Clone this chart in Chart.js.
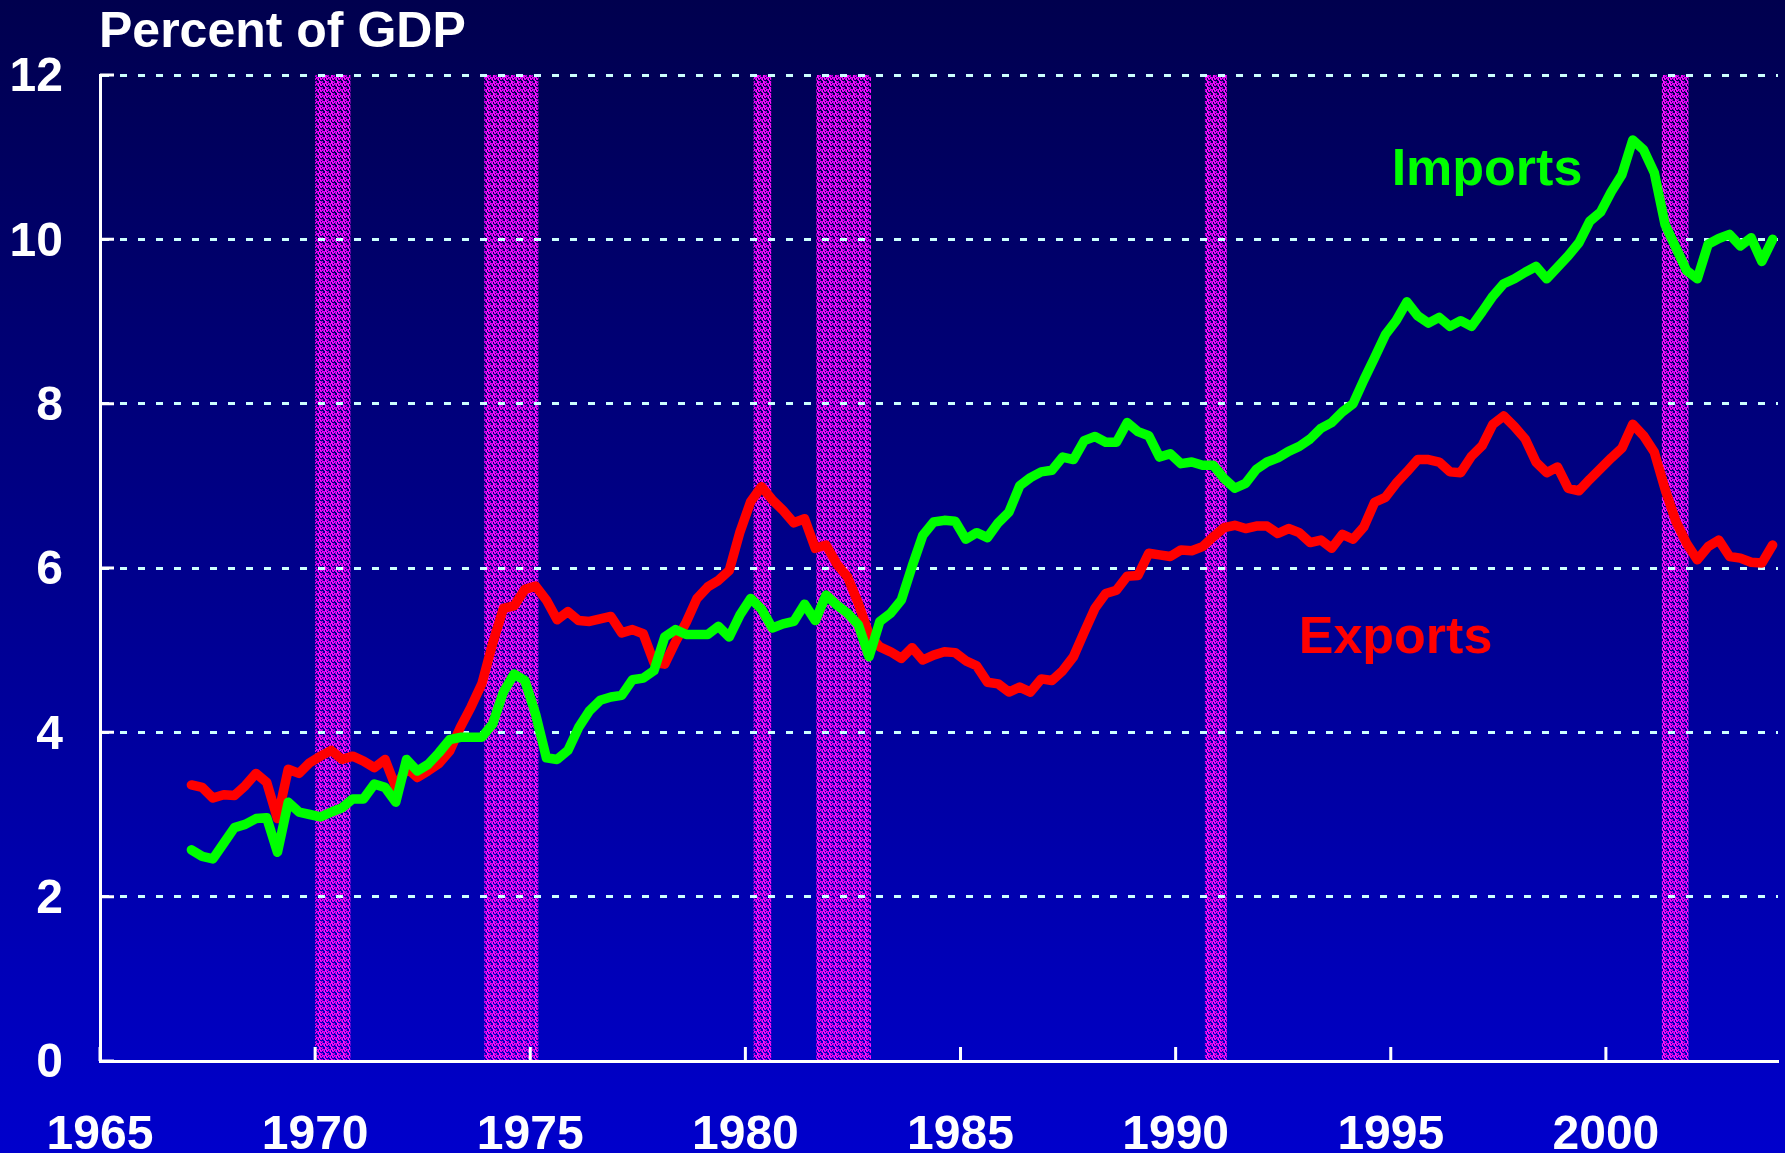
<!DOCTYPE html>
<html>
<head>
<meta charset="utf-8">
<title>Exports and Imports - Percent of GDP</title>
<script src="https://cdn.jsdelivr.net/npm/chart.js@4.4.0/dist/chart.umd.min.js"></script>
<style>
  html, body { margin: 0; padding: 0; }
  body {
    width: 1785px; height: 1153px; overflow: hidden;
    background: linear-gradient(to bottom, #00004e 0%, #0000cc 100%);
  }
</style>
</head>
<body>
<canvas id="chartComercio" width="1785" height="1153"></canvas>
<script>
// ----------------------------------------------------------
// DATOS (trimestrales, 1967T1 - 2003T4, % del PIB)
// ----------------------------------------------------------
const anioInicio = 1967;
const anioFin    = 2003;

const exportaciones = [
  3.36, 3.33, 3.20, 3.24, 3.23, 3.35, 3.50, 3.39, 2.95, 3.55, 3.50, 3.63,
  3.71, 3.78, 3.67, 3.71, 3.65, 3.57, 3.67, 3.33, 3.57, 3.45, 3.53, 3.62,
  3.77, 4.06, 4.31, 4.59, 5.08, 5.51, 5.54, 5.74, 5.78, 5.61, 5.37, 5.47,
  5.36, 5.35, 5.38, 5.41, 5.21, 5.25, 5.20, 4.85, 4.83, 5.10, 5.34, 5.63,
  5.77, 5.85, 5.97, 6.44, 6.81, 6.99, 6.83, 6.70, 6.55, 6.60, 6.24, 6.28,
  6.05, 5.89, 5.57, 5.19, 5.04, 4.98, 4.90, 5.03, 4.88, 4.94, 4.98, 4.97,
  4.87, 4.81, 4.61, 4.59, 4.49, 4.55, 4.49, 4.65, 4.63, 4.75, 4.92, 5.22,
  5.51, 5.69, 5.73, 5.90, 5.91, 6.18, 6.16, 6.14, 6.22, 6.21, 6.26, 6.38,
  6.49, 6.52, 6.48, 6.51, 6.51, 6.42, 6.48, 6.43, 6.31, 6.34, 6.24, 6.41,
  6.35, 6.50, 6.80, 6.86, 7.03, 7.17, 7.32, 7.32, 7.29, 7.17, 7.16, 7.36,
  7.49, 7.75, 7.85, 7.72, 7.57, 7.29, 7.16, 7.23, 6.97, 6.94, 7.08, 7.21,
  7.34, 7.46, 7.75, 7.61, 7.41, 6.96, 6.57, 6.30, 6.10, 6.26, 6.34, 6.14,
  6.12, 6.07, 6.06, 6.28
];

const importaciones = [
  2.57, 2.49, 2.46, 2.65, 2.84, 2.88, 2.95, 2.96, 2.54, 3.15, 3.03, 3.00,
  2.97, 3.03, 3.08, 3.19, 3.19, 3.37, 3.33, 3.15, 3.67, 3.53, 3.61, 3.75,
  3.91, 3.94, 3.94, 3.94, 4.10, 4.49, 4.71, 4.63, 4.22, 3.69, 3.67, 3.78,
  4.06, 4.26, 4.39, 4.43, 4.45, 4.64, 4.66, 4.75, 5.16, 5.25, 5.19, 5.19,
  5.19, 5.29, 5.16, 5.43, 5.63, 5.50, 5.27, 5.32, 5.35, 5.56, 5.36, 5.67,
  5.55, 5.45, 5.31, 4.92, 5.35, 5.45, 5.61, 6.02, 6.40, 6.56, 6.58, 6.57,
  6.35, 6.43, 6.37, 6.55, 6.68, 7.00, 7.10, 7.17, 7.19, 7.35, 7.32, 7.55,
  7.60, 7.53, 7.53, 7.77, 7.66, 7.61, 7.35, 7.39, 7.27, 7.29, 7.25, 7.25,
  7.09, 6.97, 7.03, 7.20, 7.29, 7.34, 7.42, 7.48, 7.57, 7.70, 7.77, 7.90,
  8.00, 8.29, 8.56, 8.84, 9.01, 9.24, 9.07, 8.98, 9.05, 8.94, 9.01, 8.94,
  9.12, 9.31, 9.46, 9.52, 9.60, 9.67, 9.52, 9.66, 9.80, 9.96, 10.22, 10.33,
  10.58, 10.79, 11.21, 11.09, 10.81, 10.18, 9.90, 9.62, 9.52, 9.94, 10.01, 10.06,
  9.92, 10.02, 9.73, 10.00
];

// Recesiones (inicio, fin) en años decimales
const recesiones = [
  [1970.00, 1970.82],
  [1973.93, 1975.19],
  [1980.19, 1980.60],
  [1981.65, 1982.92],
  [1990.68, 1991.19],
  [2001.30, 2001.92]
];

const ticksX = [1965, 1970, 1975, 1980, 1985, 1990, 1995, 2000];
const ticksY = [0, 2, 4, 6, 8, 10, 12];

// Etiquetas de trimestre y su posición en el eje (mitad del trimestre)
const trimestres = [];
for (let a = anioInicio; a <= anioFin; a++) {
  for (let q = 1; q <= 4; q++) trimestres.push({ anio: a, q: q });
}
const posTrimestre = t => t.anio + (t.q - 0.5) / 4;

const serie = valores => valores.map((v, i) => ({ x: posTrimestre(trimestres[i]), y: v }));


// ----------------------------------------------------------
// ESTILO
// ----------------------------------------------------------
const fuente = "'Liberation Sans', Arial, Helvetica, sans-serif";
const colorExport = '#ff0000';
const colorImport = '#00ff00';
const colorRejilla = '#ccffff';


// Textura de las bandas de recesión (puntos magenta sobre el fondo)
function texturaRecesion(ctx) {
  const c = document.createElement('canvas');
  c.width = 6; c.height = 6;
  const g = c.getContext('2d');
  const tonos = ['#ff00ff', '#d000e0', null, '#ff20ff', '#9000c0', null, '#e010f0'];
  for (let y = 0; y < 6; y++) {
    for (let x = 0; x < 6; x++) {
      const t = tonos[(x * 5 + y * 3 + ((x * y) % 4)) % tonos.length];
      if (t) { g.fillStyle = t; g.fillRect(x, y, 1, 1); }
    }
  }
  return ctx.createPattern(c, 'repeat');
}


// Plugin: bandas de recesión (debajo de la rejilla y las líneas)
const pluginRecesiones = {
  id: 'recesiones',
  beforeDraw(chart) {
    const { ctx, scales: { x, y } } = chart;
    ctx.save();
    ctx.fillStyle = texturaRecesion(ctx);
    const yTop = y.getPixelForValue(12);
    const yBot = y.getPixelForValue(0);
    recesiones.forEach(([ini, fin]) => {
      const x0 = x.getPixelForValue(ini);
      const x1 = x.getPixelForValue(fin);
      ctx.fillRect(x0, yTop, x1 - x0, yBot - yTop);
    });
    ctx.restore();
  }
};


// Plugin: marcas hacia dentro, título y rótulos de las series
const pluginTextos = {
  id: 'textos',
  afterDraw(chart) {
    const { ctx, chartArea, scales: { x, y } } = chart;
    ctx.save();
    ctx.strokeStyle = '#ffffff';
    ctx.lineWidth = 3;
    ctx.beginPath();
    ticksY.forEach(v => {
      const py = y.getPixelForValue(v);
      ctx.moveTo(chartArea.left, py);
      ctx.lineTo(chartArea.left + 14, py);
    });
    ticksX.forEach(v => {
      const px = x.getPixelForValue(v);
      ctx.moveTo(px, chartArea.bottom);
      ctx.lineTo(px, chartArea.bottom - 14);
    });
    ctx.stroke();

    ctx.textBaseline = 'alphabetic';
    ctx.textAlign = 'left';
    ctx.fillStyle = '#ffffff';
    ctx.font = 'bold 50px ' + fuente;
    ctx.fillText('Percent of GDP', chartArea.left - 1, 47);

    ctx.font = 'bold 52px ' + fuente;
    ctx.fillStyle = colorImport;
    ctx.fillText('Imports', x.getPixelForValue(1995.02), y.getPixelForValue(10.66));
    ctx.fillStyle = colorExport;
    ctx.fillText('Exports', x.getPixelForValue(1992.86), y.getPixelForValue(4.96));
    ctx.restore();
  }
};


// ----------------------------------------------------------
// GRÁFICA: Exportaciones e importaciones (% del PIB)
// ----------------------------------------------------------
new Chart(document.getElementById('chartComercio'), {
  type: 'line',
  data: {
    datasets: [
      {
        label: 'Imports',
        data: serie(importaciones),
        borderColor: colorImport,
        borderWidth: 9.5,
        pointRadius: 0,
        borderJoinStyle: 'round',
        borderCapStyle: 'round',
        tension: 0
      },
      {
        label: 'Exports',
        data: serie(exportaciones),
        borderColor: colorExport,
        borderWidth: 9.5,
        pointRadius: 0,
        borderJoinStyle: 'round',
        borderCapStyle: 'round',
        tension: 0
      }
    ]
  },
  options: {
    responsive: false,
    animation: false,
    layout: { padding: { top: 75, right: 7, left: 0, bottom: 0 } },
    plugins: {
      legend: { display: false },
      title: { display: false },
      tooltip: { enabled: false }
    },
    scales: {
      x: {
        type: 'linear',
        min: 1965,
        max: 2004,
        afterBuildTicks: s => { s.ticks = ticksX.map(v => ({ value: v })); },
        afterFit: s => { s.height = 92; },
        grid: { display: false, drawTicks: false },
        border: { display: true, color: '#ffffff', width: 3 },
        ticks: {
          color: '#ffffff',
          padding: 46,
          maxRotation: 0,
          autoSkip: false,
          font: { family: fuente, size: 48, weight: 'bold' },
          callback: v => String(v)
        }
      },
      y: {
        min: 0,
        max: 12,
        afterBuildTicks: s => { s.ticks = ticksY.map(v => ({ value: v })); },
        afterFit: s => { s.width = 100; },
        grid: {
          color: ctx => (ctx.tick && ctx.tick.value === 0 ? 'rgba(0,0,0,0)' : colorRejilla),
          lineWidth: 3,
          drawTicks: false
        },
        border: { display: true, color: '#ffffff', width: 3, dash: [7, 11] },
        ticks: {
          color: '#ffffff',
          padding: 37,
          labelOffset: 3,
          font: { family: fuente, size: 48, weight: 'bold' }
        }
      }
    }
  },
  plugins: [pluginRecesiones, pluginTextos]
});
</script>
</body>
</html>
